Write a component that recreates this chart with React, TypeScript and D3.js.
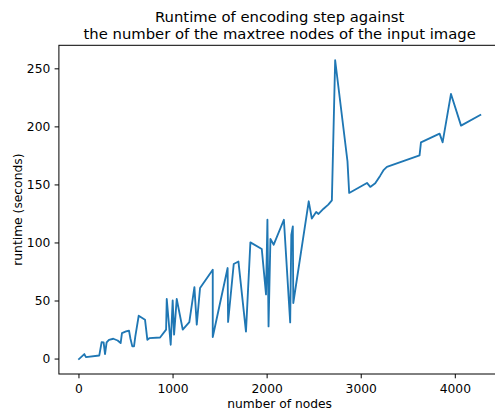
import React from "react";
import * as d3 from "d3";

const nodes = [
  0, 57, 74, 216, 241, 262, 277, 294, 319, 365, 411, 443, 457, 500, 532, 546, 567, 585, 599, 635,
  702, 727, 748, 862, 926, 933, 975, 996, 1011, 1039, 1103, 1173, 1227, 1252, 1287, 1422, 1422,
  1580, 1585, 1645, 1695, 1775, 1822, 1943, 1988, 2003, 2015, 2035, 2070, 2178, 2245, 2257, 2273,
  2278, 2442, 2475, 2521, 2546, 2600, 2650, 2688, 2723, 2854, 2872, 3061, 3096, 3149, 3202, 3240,
  3273, 3620, 3635, 3833, 3865, 3954, 4061, 4266,
];
const runtime = [
  0, 4.3, 1.7, 3.1, 14.6, 14.3, 4.3, 14.3, 16.6, 17.5, 16, 13.8, 22.4, 23.8, 24.4, 18, 10.9, 10.9,
  19.5, 37.3, 33.9, 16.6, 18, 18.6, 25.3, 51.7, 12.3, 50.5, 21, 51.7, 25.3, 31.9, 62, 29.6, 61.2,
  77, 19, 78.4, 31.9, 81.9, 84, 23.6, 100.5, 94.8, 55.7, 120, 28.1, 103.4, 98.5, 120, 31.6, 107,
  114.3, 48.3, 135.9, 121, 126.7, 125, 129.5, 133, 136.7, 257.4, 170.3, 143.1, 151.7, 148.3, 151.5,
  158, 163, 165.5, 175.5, 186.7, 194.2, 186.7, 228.4, 201.1, 210.3,
];
const xTicks = [0, 1000, 2000, 3000, 4000];
const yTicks = [0, 50, 100, 150, 200, 250];

const W = 495;
const H = 414;
const left = 58.9;
const right = 500.4;
const top = 45.3;
const bottom = 374;
const font = "DejaVu Sans";

export default function App() {
  const xmin = d3.min(nodes)!;
  const xmax = d3.max(nodes)!;
  const ymin = d3.min(runtime)!;
  const ymax = d3.max(runtime)!;
  const xm = (xmax - xmin) * 0.05;
  const ym = (ymax - ymin) * 0.05;
  const x = d3.scaleLinear().domain([xmin - xm, xmax + xm]).range([left, right]);
  const y = d3.scaleLinear().domain([ymin - ym, ymax + ym]).range([bottom, top]);
  const data = nodes.map((n, i) => [n, runtime[i]] as [number, number]);
  const line = d3
    .line<[number, number]>()
    .x((d) => x(d[0]))
    .y((d) => y(d[1]));
  const cx = (left + right) / 2;
  return (
    <svg
      width={W}
      height={H}
      style={{ position: "absolute", left: 0, top: 0, background: "#fff" }}
      fontFamily={font}
    >
      <rect x={0} y={0} width={W} height={H} fill="#fff" />
      <defs>
        <clipPath id="clip">
          <rect x={left} y={top} width={right - left} height={bottom - top} />
        </clipPath>
      </defs>
      <path
        d={line(data)!}
        fill="none"
        stroke="#1f77b4"
        strokeWidth={1.85}
        strokeLinejoin="round"
        strokeLinecap="square"
        clipPath="url(#clip)"
      />
      <rect
        x={left}
        y={top}
        width={right - left}
        height={bottom - top}
        fill="none"
        stroke="#000"
        strokeWidth={1}
      />
      {xTicks.map((t) => (
        <g key={"x" + t}>
          <line x1={x(t)} x2={x(t)} y1={bottom} y2={bottom + 4.3} stroke="#000" strokeWidth={1} />
          <text x={x(t)} y={392.5} textAnchor="middle" fontSize={12.3} fill="#000">
            {t}
          </text>
        </g>
      ))}
      {yTicks.map((t) => (
        <g key={"y" + t}>
          <line x1={left - 4.3} x2={left} y1={y(t)} y2={y(t)} stroke="#000" strokeWidth={1} />
          <text
            x={left - 8.6}
            y={y(t)}
            dy="0.36em"
            textAnchor="end"
            fontSize={12.3}
            fill="#000"
          >
            {t}
          </text>
        </g>
      ))}
      <text x={cx} y={407.5} textAnchor="middle" fontSize={12.3} fill="#000">
        number of nodes
      </text>
      <text
        transform={`translate(22, ${(top + bottom) / 2}) rotate(-90)`}
        textAnchor="middle"
        fontSize={12.3}
        fill="#000"
      >
        runtime (seconds)
      </text>
      <text x={cx} y={21.5} textAnchor="middle" fontSize={14.8} fill="#000">
        Runtime of encoding step against
      </text>
      <text x={cx} y={39.3} textAnchor="middle" fontSize={14.8} fill="#000">
        the number of the maxtree nodes of the input image
      </text>
    </svg>
  );
}
